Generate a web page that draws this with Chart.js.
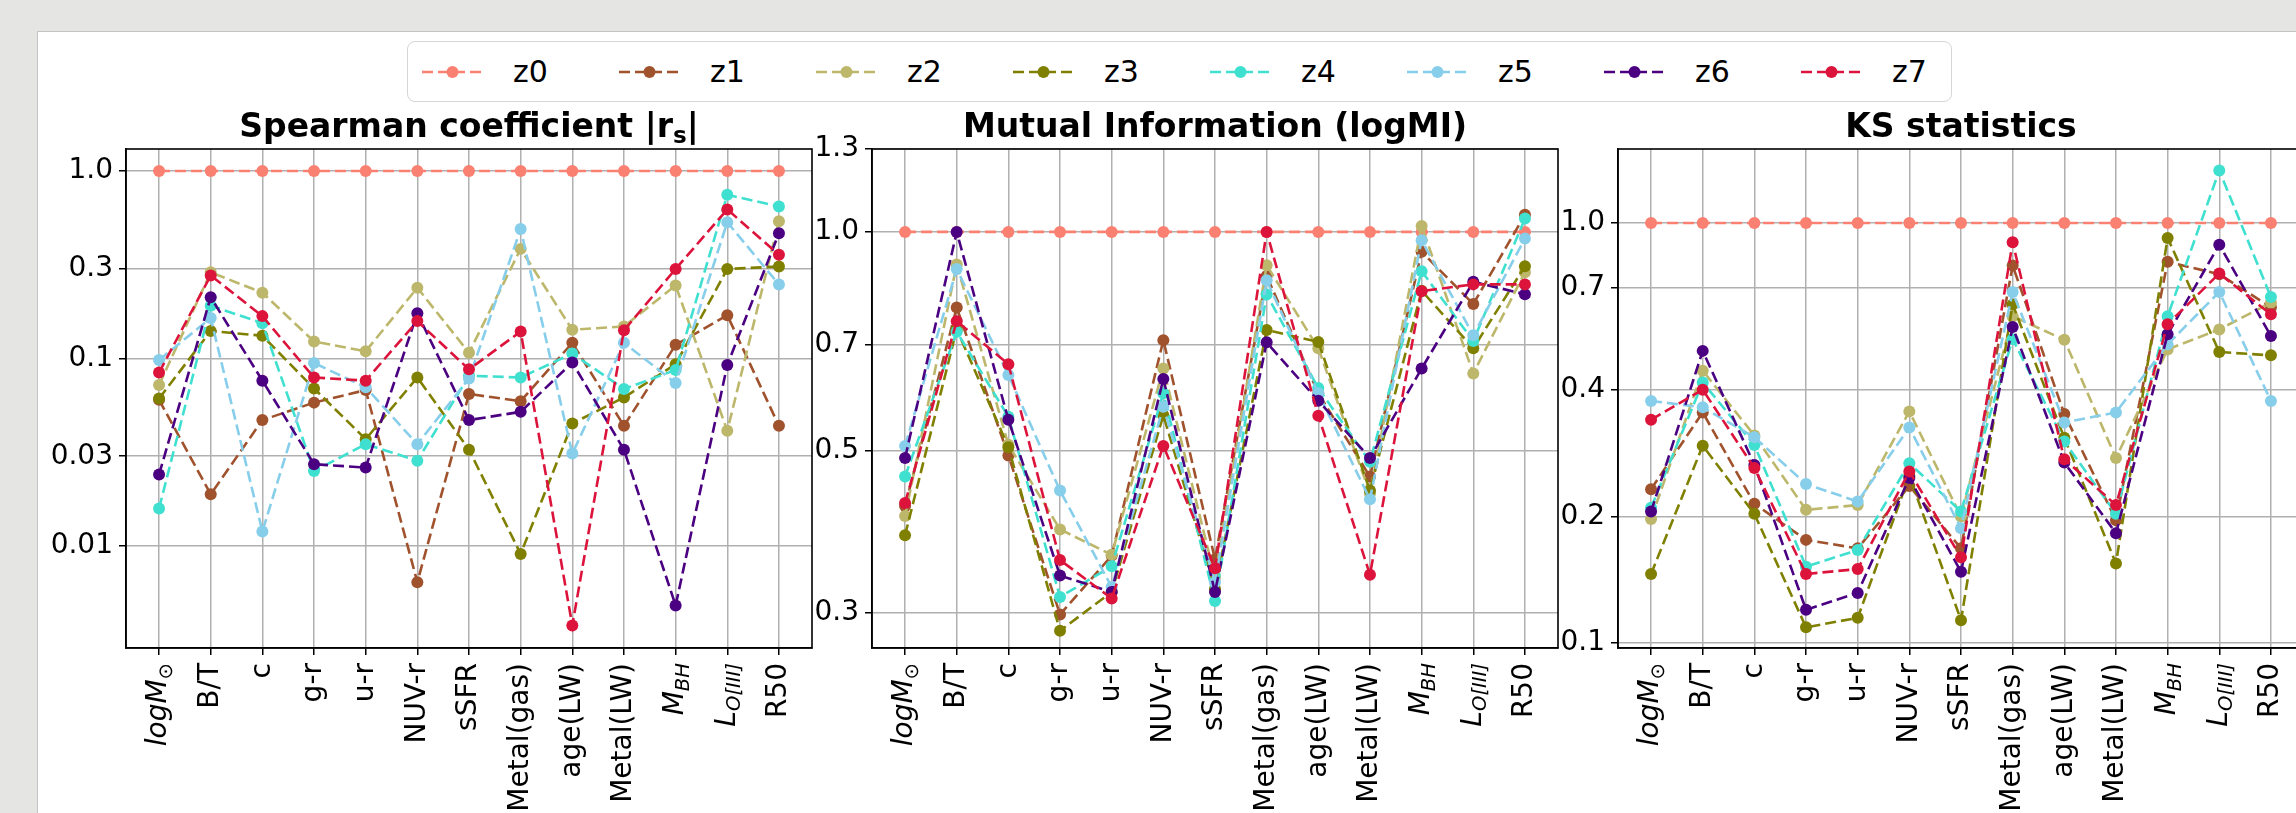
<!DOCTYPE html>
<html>
<head>
<meta charset="utf-8">
<script src="https://cdn.jsdelivr.net/npm/chart.js@4.4.0/dist/chart.umd.min.js"></script>
<style>
html, body { margin: 0; padding: 0; width: 2296px; height: 813px; overflow: hidden; background: #e5e5e3; font-family: "DejaVu Sans", sans-serif; }
#card { position: absolute; left: 37px; top: 31px; width: 2400px; height: 900px; background: #fff; border: 1px solid #c4c4c4; }
#legend { position: absolute; left: 407px; top: 41px; width: 1545px; height: 61px; border: 1.5px solid #d6d6d6; border-radius: 8px; background: #fff; box-sizing: border-box; }
.item { position: absolute; top: 0; height: 100%; display: flex; align-items: center; }
.item span { font-size: 30px; margin-left: 30px; color: #000; }
canvas { position: absolute; top: 100px; }
</style>
</head>
<body>
<div id="card"></div>
<div id="legend"></div>
<canvas id="c1"></canvas>
<canvas id="c2"></canvas>
<canvas id="c3"></canvas>
<script>
// categories (x axis), each label split into styled parts: n normal, i italic, si italic subscript, sn subscript
const categories = ['logM_sun', 'B/T', 'c', 'g-r', 'u-r', 'NUV-r', 'sSFR', 'Metal(gas)', 'age(LW)', 'Metal(LW)', 'M_BH', 'L_OIII', 'R50'];
const catParts = [
  [['logM', 'i'], ['\u2299', 'sn']], [['B/T', 'n']], [['c', 'n']], [['g-r', 'n']], [['u-r', 'n']],
  [['NUV-r', 'n']], [['sSFR', 'n']], [['Metal(gas)', 'n']], [['age(LW)', 'n']], [['Metal(LW)', 'n']],
  [['M', 'i'], ['BH', 'si']], [['L', 'i'], ['O[III]', 'si']], [['R50', 'n']]
];
const names = ['z0', 'z1', 'z2', 'z3', 'z4', 'z5', 'z6', 'z7'];
const colors = ['#fa8072', '#a0522d', '#bdb76b', '#808000', '#40e0d0', '#87ceeb', '#4b0082', '#dc143c'];

// Spearman coefficient |r_s|
const spearmanZ0 = [1, 1, 1, 1, 1, 1, 1, 1, 1, 1, 1, 1, 1];
const spearmanZ1 = [0.060, 0.0188, 0.0468, 0.058, 0.0677, 0.00638, 0.0645, 0.059, 0.121, 0.0436, 0.118, 0.17, 0.0436];
const spearmanZ2 = [0.072, 0.288, 0.224, 0.123, 0.109, 0.238, 0.107, 0.384, 0.142, 0.148, 0.245, 0.041, 0.54];
const spearmanZ3 = [0.061, 0.14, 0.132, 0.069, 0.037, 0.079, 0.0325, 0.00903, 0.0449, 0.0618, 0.093, 0.30, 0.309];
const spearmanZ4 = [0.0158, 0.191, 0.154, 0.025, 0.0348, 0.0284, 0.0807, 0.079, 0.106, 0.0686, 0.0866, 0.747, 0.647];
const spearmanZ5 = [0.098, 0.164, 0.0119, 0.0944, 0.070, 0.0348, 0.078, 0.49, 0.031, 0.121, 0.0738, 0.533, 0.248];
const spearmanZ6 = [0.024, 0.212, 0.076, 0.0272, 0.0261, 0.174, 0.0468, 0.0518, 0.095, 0.0325, 0.00479, 0.092, 0.466];
const spearmanZ7 = [0.084, 0.277, 0.168, 0.079, 0.076, 0.158, 0.0873, 0.139, 0.00375, 0.141, 0.30, 0.624, 0.357];

// Mutual information (logMI)
const miZ0 = [1, 1, 1, 1, 1, 1, 1, 1, 1, 1, 1, 1, 1];
const miZ1 = [0.42, 0.787, 0.493, 0.298, 0.359, 0.710, 0.355, 0.87, 0.60, 0.461, 0.939, 0.796, 1.056];
const miZ2 = [0.407, 0.902, 0.51, 0.390, 0.36, 0.649, 0.335, 0.90, 0.692, 0.437, 1.019, 0.639, 0.88];
const miZ3 = [0.383, 0.735, 0.506, 0.283, 0.32, 0.56, 0.323, 0.733, 0.706, 0.441, 0.83, 0.692, 0.897];
const miZ4 = [0.461, 0.729, 0.557, 0.315, 0.347, 0.60, 0.311, 0.82, 0.610, 0.483, 0.883, 0.708, 1.043];
const miZ5 = [0.508, 0.889, 0.636, 0.441, 0.325, 0.575, 0.33, 0.858, 0.60, 0.429, 0.974, 0.721, 0.979];
const miZ6 = [0.489, 1.0, 0.552, 0.337, 0.320, 0.628, 0.320, 0.705, 0.586, 0.489, 0.649, 0.854, 0.821];
const miZ7 = [0.424, 0.754, 0.658, 0.354, 0.3135, 0.508, 0.345, 1.0, 0.559, 0.338, 0.829, 0.847, 0.847];

// KS statistics
const ksZ0 = [1, 1, 1, 1, 1, 1, 1, 1, 1, 1, 1, 1, 1];
const ksZ1 = [0.2324, 0.354, 0.2145, 0.176, 0.168, 0.2366, 0.168, 0.792, 0.351, 0.196, 0.808, 0.755, 0.63];
const ksZ2 = [0.1974, 0.445, 0.312, 0.2075, 0.213, 0.356, 0.20, 0.60, 0.527, 0.2756, 0.50, 0.558, 0.646];
const ksZ3 = [0.146, 0.295, 0.203, 0.109, 0.1148, 0.25, 0.1133, 0.640, 0.308, 0.1547, 0.921, 0.493, 0.484];
const ksZ4 = [0.21, 0.417, 0.296, 0.152, 0.1665, 0.268, 0.2056, 0.529, 0.302, 0.203, 0.60, 1.334, 0.666];
const ksZ5 = [0.377, 0.364, 0.309, 0.239, 0.2172, 0.326, 0.1875, 0.685, 0.335, 0.354, 0.514, 0.685, 0.377];
const ksZ6 = [0.2056, 0.496, 0.2655, 0.120, 0.1316, 0.247, 0.1478, 0.565, 0.269, 0.1825, 0.543, 0.888, 0.538];
const ksZ7 = [0.340, 0.401, 0.261, 0.146, 0.150, 0.256, 0.160, 0.90, 0.274, 0.213, 0.574, 0.758, 0.606];

// y tick values and labels
const spearmanTicks = [1.0, 0.3, 0.1, 0.03, 0.01];
const spearmanTickLabels = ['1.0', '0.3', '0.1', '0.03', '0.01'];
const miTicks = [1.3, 1.0, 0.7, 0.5, 0.3];
const miTickLabels = ['1.3', '1.0', '0.7', '0.5', '0.3'];
const ksTicks = [1.0, 0.7, 0.4, 0.2, 0.1];
const ksTickLabels = ['1.0', '0.7', '0.4', '0.2', '0.1'];

const FONT = '"DejaVu Sans"';
const M = 110, YW = 95, PLOT_W = 686, XH = 252;

function fontFor(style, size, bold) {
  const sub = style[0] === 's';
  const it = style.indexOf('i') >= 0;
  return (it ? 'italic ' : '') + (bold ? 'bold ' : '') + (sub ? size * 0.7 : size) + 'px ' + FONT;
}

function drawParts(ctx, parts, x, y, align, size, bold) {
  let total = 0;
  const widths = parts.map(p => { ctx.font = fontFor(p[1], size, bold); const w = ctx.measureText(p[0]).width; total += w; return w; });
  let cx = align === 'center' ? x - total / 2 : x - total;
  ctx.textAlign = 'left';
  ctx.textBaseline = 'middle';
  parts.forEach((p, k) => {
    ctx.font = fontFor(p[1], size, bold);
    const dy = p[1][0] === 's' ? size * 0.28 : 0;
    ctx.fillText(p[0], cx, y + dy);
    cx += widths[k];
  });
}

const mplText = {
  id: 'mplText',
  afterDraw(chart, args, opts) {
    const { ctx, chartArea: a, scales: { x } } = chart;
    ctx.save();
    ctx.strokeStyle = '#000';
    ctx.lineWidth = 1.6;
    ctx.strokeRect(a.left, a.top, a.right - a.left, a.bottom - a.top);
    ctx.fillStyle = '#000';
    drawParts(ctx, opts.title, (a.left + a.right) / 2, a.top - 21, 'center', 33, true);
    catParts.forEach((parts, i) => {
      ctx.save();
      ctx.translate(x.getPixelForValue(i), a.bottom + 15);
      ctx.rotate(-Math.PI / 2);
      drawParts(ctx, parts, 0, 0, 'right', 28, false);
      ctx.restore();
    });
    ctx.restore();
  }
};

const gridOpts = { color: '#b0b0b0', lineWidth: 1.5, tickColor: '#000', tickLength: 7, tickWidth: 1.5 };
const borderOpts = { display: true, color: '#000', width: 1.6 };

function makeChart(id, plotLeft, title, series, yMin, yMax, ticks, tickLabels) {
  const cv = document.getElementById(id);
  cv.width = PLOT_W + 2 * M;
  cv.height = 49 + 499 + XH;
  cv.style.left = (plotLeft - M) + 'px';
  return new Chart(cv, {
    type: 'line',
    data: {
      datasets: series.map((vals, k) => ({
        label: names[k],
        data: vals.map((v, i) => ({ x: i, y: v })),
        borderColor: colors[k],
        backgroundColor: colors[k],
        pointBackgroundColor: colors[k],
        borderWidth: 2.6,
        borderDash: [11, 5],
        pointRadius: 6,
        pointBorderWidth: 0,
        tension: 0,
        order: 7 - k
      }))
    },
    options: {
      responsive: false,
      animation: false,
      devicePixelRatio: 1,
      layout: { padding: { left: M - YW, right: M, top: 49, bottom: 0 } },
      plugins: { legend: { display: false }, tooltip: { enabled: false }, mplText: { title } },
      scales: {
        x: {
          type: 'linear', min: -0.64, max: 12.64,
          afterBuildTicks: s => { s.ticks = categories.map((c, i) => ({ value: i })); },
          afterFit: s => { s.height = XH; },
          ticks: { display: false },
          grid: gridOpts, border: borderOpts
        },
        y: {
          type: 'logarithmic', min: yMin, max: yMax,
          afterBuildTicks: s => { s.ticks = ticks.map(v => ({ value: v })); },
          afterFit: s => { s.width = YW; },
          ticks: {
            autoSkip: false, padding: 6, color: '#000',
            font: { family: 'DejaVu Sans', size: 28 },
            callback: v => tickLabels[ticks.indexOf(v)]
          },
          grid: gridOpts, border: borderOpts
        }
      }
    },
    plugins: [mplText]
  });
}

makeChart('c1', 126, [['Spearman coefficient |r', 'n'], ['s', 'sn'], ['|', 'n']],
  [spearmanZ0, spearmanZ1, spearmanZ2, spearmanZ3, spearmanZ4, spearmanZ5, spearmanZ6, spearmanZ7],
  0.00284, 1.311, spearmanTicks, spearmanTickLabels);
makeChart('c2', 872, [['Mutual Information (logMI)', 'n']],
  [miZ0, miZ1, miZ2, miZ3, miZ4, miZ5, miZ6, miZ7],
  0.268, 1.3, miTicks, miTickLabels);
makeChart('c3', 1618, [['KS statistics', 'n']],
  [ksZ0, ksZ1, ksZ2, ksZ3, ksZ4, ksZ5, ksZ6, ksZ7],
  0.0973, 1.5, ksTicks, ksTickLabels);

// legend row built from the series names and colours
const legend = document.getElementById('legend');
names.forEach((n, k) => {
  const d = document.createElement('div');
  d.className = 'item';
  d.style.left = (14 + 197 * k) + 'px';
  d.innerHTML = '<svg width="61" height="20"><line x1="0" y1="10" x2="61" y2="10" stroke="' + colors[k] +
    '" stroke-width="2.6" stroke-dasharray="11 5"/><circle cx="30.5" cy="10" r="6" fill="' + colors[k] +
    '"/></svg><span>' + n + '</span>';
  legend.appendChild(d);
});
</script>
</body>
</html>
